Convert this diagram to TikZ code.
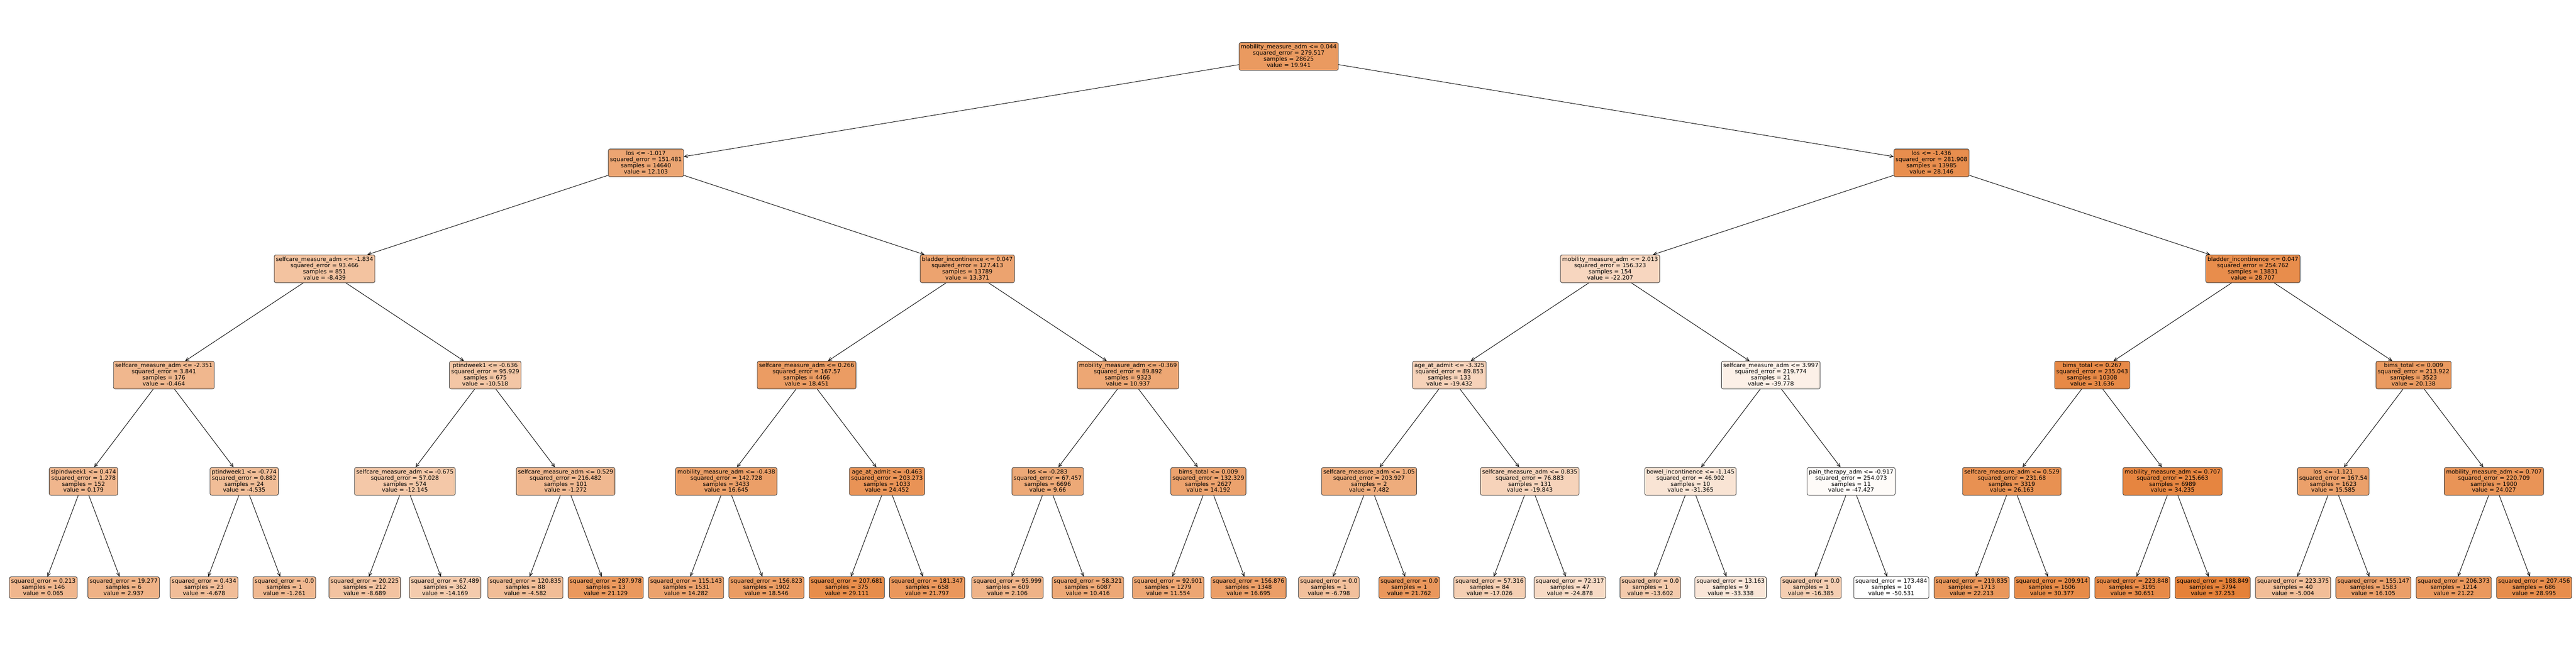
\documentclass[tikz,border=0pt]{standalone}
\usepackage{fontspec}
\setmainfont{DejaVu Sans}
\usetikzlibrary{arrows.meta}
\definecolor{orb}{RGB}{229,129,57}
\newcommand\inn[4]{\rule{0pt}{0.78em}#1\\squared\_error = #2\\samples = #3\\value = #4\rule[-0.24em]{0pt}{0.24em}}
\newcommand\lf[3]{\rule{0pt}{0.78em}squared\_error = #1\\samples = #2\\value = #3\rule[-0.24em]{0pt}{0.24em}}
\newcommand\X[1]{1.255+2.3265*(#1)}
\tikzset{
  nd/.style={rectangle, rounded corners=0.05cm, draw=black!80, line width=0.013cm,
    inner xsep=0.05cm, inner ysep=0.052cm, align=center,
    font=\fontsize{4.7pt}{5.05pt}\selectfont},
  edge/.style={draw=black, line width=0.014cm, -{Straight Barb[length=0.1cm,width=0.09cm]}}
}
\begin{document}
\begin{tikzpicture}
\useasboundingbox (0,0) rectangle (74.59,-18.68);
% level 0
\node[nd, fill=orb!80.3] (a0) at ({\X{15.5}},-1.635) {\inn{mobility\_measure\_adm <= 0.044}{279.517}{28625}{19.941}};
% level 1
\node[nd, fill=orb!71.3] (b0) at ({\X{7.5}},-4.72) {\inn{los <= -1.017}{151.481}{14640}{12.103}};
\node[nd, fill=orb!89.6] (b1) at ({\X{23.5}},-4.72) {\inn{los <= -1.436}{281.908}{13985}{28.146}};
% level 2
\node[nd, fill=orb!47.9] (c0) at ({\X{3.5}},-7.79) {\inn{selfcare\_measure\_adm <= -1.834}{93.466}{851}{-8.439}};
\node[nd, fill=orb!72.8] (c1) at ({\X{11.5}},-7.79) {\inn{bladder\_incontinence <= 0.047}{127.413}{13789}{13.371}};
\node[nd, fill=orb!32.3] (c2) at ({\X{19.5}},-7.79) {\inn{mobility\_measure\_adm <= 2.013}{156.323}{154}{-22.207}};
\node[nd, fill=orb!90.3] (c3) at ({\X{27.5}},-7.79) {\inn{bladder\_incontinence <= 0.047}{254.762}{13831}{28.707}};
% level 3
\node[nd, fill=orb!57.0] (d0) at ({\X{1.5}},-10.87) {\inn{selfcare\_measure\_adm <= -2.351}{3.841}{176}{-0.464}};
\node[nd, fill=orb!45.6] (d1) at ({\X{5.5}},-10.87) {\inn{ptindweek1 <= -0.636}{95.929}{675}{-10.518}};
\node[nd, fill=orb!78.6] (d2) at ({\X{9.5}},-10.87) {\inn{selfcare\_measure\_adm <= 0.266}{167.57}{4466}{18.451}};
\node[nd, fill=orb!70.0] (d3) at ({\X{13.5}},-10.87) {\inn{mobility\_measure\_adm <= -0.369}{89.892}{9323}{10.937}};
\node[nd, fill=orb!35.4] (d4) at ({\X{17.5}},-10.87) {\inn{age\_at\_admit <= -3.325}{89.853}{133}{-19.432}};
\node[nd, fill=orb!12.2] (d5) at ({\X{21.5}},-10.87) {\inn{selfcare\_measure\_adm <= 3.997}{219.774}{21}{-39.778}};
\node[nd, fill=orb!93.6] (d6) at ({\X{25.5}},-10.87) {\inn{bims\_total <= 0.267}{235.043}{10308}{31.636}};
\node[nd, fill=orb!80.5] (d7) at ({\X{29.5}},-10.87) {\inn{bims\_total <= 0.009}{213.922}{3523}{20.138}};
% level 4
\node[nd, fill=orb!57.8] (e0) at ({\X{0.5}},-13.95) {\inn{slpindweek1 <= 0.474}{1.278}{152}{0.179}};
\node[nd, fill=orb!52.4] (e1) at ({\X{2.5}},-13.95) {\inn{ptindweek1 <= -0.774}{0.882}{24}{-4.535}};
\node[nd, fill=orb!43.7] (e2) at ({\X{4.5}},-13.95) {\inn{selfcare\_measure\_adm <= -0.675}{57.028}{574}{-12.145}};
\node[nd, fill=orb!56.1] (e3) at ({\X{6.5}},-13.95) {\inn{selfcare\_measure\_adm <= 0.529}{216.482}{101}{-1.272}};
\node[nd, fill=orb!76.5] (e4) at ({\X{8.5}},-13.95) {\inn{mobility\_measure\_adm <= -0.438}{142.728}{3433}{16.645}};
\node[nd, fill=orb!85.4] (e5) at ({\X{10.5}},-13.95) {\inn{age\_at\_admit <= -0.463}{203.273}{1033}{24.452}};
\node[nd, fill=orb!68.6] (e6) at ({\X{12.5}},-13.95) {\inn{los <= -0.283}{67.457}{6696}{9.66}};
\node[nd, fill=orb!73.7] (e7) at ({\X{14.5}},-13.95) {\inn{bims\_total <= 0.009}{132.329}{2627}{14.192}};
\node[nd, fill=orb!66.1] (e8) at ({\X{16.5}},-13.95) {\inn{selfcare\_measure\_adm <= 1.05}{203.927}{2}{7.482}};
\node[nd, fill=orb!35.0] (e9) at ({\X{18.5}},-13.95) {\inn{selfcare\_measure\_adm <= 0.835}{76.883}{131}{-19.843}};
\node[nd, fill=orb!21.8] (e10) at ({\X{20.5}},-13.95) {\inn{bowel\_incontinence <= -1.145}{46.902}{10}{-31.365}};
\node[nd, fill=orb!3.5] (e11) at ({\X{22.5}},-13.95) {\inn{pain\_therapy\_adm <= -0.917}{254.073}{11}{-47.427}};
\node[nd, fill=orb!87.4] (e12) at ({\X{24.5}},-13.95) {\inn{selfcare\_measure\_adm <= 0.529}{231.68}{3319}{26.163}};
\node[nd, fill=orb!96.6] (e13) at ({\X{26.5}},-13.95) {\inn{mobility\_measure\_adm <= 0.707}{215.663}{6989}{34.235}};
\node[nd, fill=orb!75.3] (e14) at ({\X{28.5}},-13.95) {\inn{los <= -1.121}{167.54}{1623}{15.585}};
\node[nd, fill=orb!84.9] (e15) at ({\X{30.5}},-13.95) {\inn{mobility\_measure\_adm <= 0.707}{220.709}{1900}{24.027}};
% leaves
\node[nd, fill=orb!57.6] (f0) at ({\X{0}},-17.03) {\lf{0.213}{146}{0.065}};
\node[nd, fill=orb!60.9] (f1) at ({\X{1}},-17.03) {\lf{19.277}{6}{2.937}};
\node[nd, fill=orb!52.2] (f2) at ({\X{2}},-17.03) {\lf{0.434}{23}{-4.678}};
\node[nd, fill=orb!56.1] (f3) at ({\X{3}},-17.03) {\lf{-0.0}{1}{-1.261}};
\node[nd, fill=orb!47.7] (f4) at ({\X{4}},-17.03) {\lf{20.225}{212}{-8.689}};
\node[nd, fill=orb!41.4] (f5) at ({\X{5}},-17.03) {\lf{67.489}{362}{-14.169}};
\node[nd, fill=orb!52.3] (f6) at ({\X{6}},-17.03) {\lf{120.835}{88}{-4.582}};
\node[nd, fill=orb!81.6] (f7) at ({\X{7}},-17.03) {\lf{287.978}{13}{21.129}};
\node[nd, fill=orb!73.8] (f8) at ({\X{8}},-17.03) {\lf{115.143}{1531}{14.282}};
\node[nd, fill=orb!78.7] (f9) at ({\X{9}},-17.03) {\lf{156.823}{1902}{18.546}};
\node[nd, fill=orb!90.7] (f10) at ({\X{10}},-17.03) {\lf{207.681}{375}{29.111}};
\node[nd, fill=orb!82.4] (f11) at ({\X{11}},-17.03) {\lf{181.347}{658}{21.797}};
\node[nd, fill=orb!60.0] (f12) at ({\X{12}},-17.03) {\lf{95.999}{609}{2.106}};
\node[nd, fill=orb!69.4] (f13) at ({\X{13}},-17.03) {\lf{58.321}{6087}{10.416}};
\node[nd, fill=orb!70.7] (f14) at ({\X{14}},-17.03) {\lf{92.901}{1279}{11.554}};
\node[nd, fill=orb!76.6] (f15) at ({\X{15}},-17.03) {\lf{156.876}{1348}{16.695}};
\node[nd, fill=orb!49.8] (f16) at ({\X{16}},-17.03) {\lf{0.0}{1}{-6.798}};
\node[nd, fill=orb!82.4] (f17) at ({\X{17}},-17.03) {\lf{0.0}{1}{21.762}};
\node[nd, fill=orb!38.2] (f18) at ({\X{18}},-17.03) {\lf{57.316}{84}{-17.026}};
\node[nd, fill=orb!29.2] (f19) at ({\X{19}},-17.03) {\lf{72.317}{47}{-24.878}};
\node[nd, fill=orb!42.1] (f20) at ({\X{20}},-17.03) {\lf{0.0}{1}{-13.602}};
\node[nd, fill=orb!19.6] (f21) at ({\X{21}},-17.03) {\lf{13.163}{9}{-33.338}};
\node[nd, fill=orb!38.9] (f22) at ({\X{22}},-17.03) {\lf{0.0}{1}{-16.385}};
\node[nd, fill=white] (f23) at ({\X{23}},-17.03) {\lf{173.484}{10}{-50.531}};
\node[nd, fill=orb!82.9] (f24) at ({\X{24}},-17.03) {\lf{219.835}{1713}{22.213}};
\node[nd, fill=orb!92.2] (f25) at ({\X{25}},-17.03) {\lf{209.914}{1606}{30.377}};
\node[nd, fill=orb!92.5] (f26) at ({\X{26}},-17.03) {\lf{223.848}{3195}{30.651}};
\node[nd, fill=orb!100] (f27) at ({\X{27}},-17.03) {\lf{188.849}{3794}{37.253}};
\node[nd, fill=orb!51.9] (f28) at ({\X{28}},-17.03) {\lf{223.375}{40}{-5.004}};
\node[nd, fill=orb!75.9] (f29) at ({\X{29}},-17.03) {\lf{155.147}{1583}{16.105}};
\node[nd, fill=orb!81.7] (f30) at ({\X{30}},-17.03) {\lf{206.373}{1214}{21.22}};
\node[nd, fill=orb!90.6] (f31) at ({\X{31}},-17.03) {\lf{207.456}{686}{28.995}};
% connectors
\draw[edge] (a0) -- (b0);
\draw[edge] (a0) -- (b1);
\foreach \i in {0,1}{\pgfmathtruncatemacro\j{2*\i}\pgfmathtruncatemacro\k{2*\i+1}
  \draw[edge] (b\i) -- (c\j); \draw[edge] (b\i) -- (c\k);}
\foreach \i in {0,...,3}{\pgfmathtruncatemacro\j{2*\i}\pgfmathtruncatemacro\k{2*\i+1}
  \draw[edge] (c\i) -- (d\j); \draw[edge] (c\i) -- (d\k);}
\foreach \i in {0,...,7}{\pgfmathtruncatemacro\j{2*\i}\pgfmathtruncatemacro\k{2*\i+1}
  \draw[edge] (d\i) -- (e\j); \draw[edge] (d\i) -- (e\k);}
\foreach \i in {0,...,15}{\pgfmathtruncatemacro\j{2*\i}\pgfmathtruncatemacro\k{2*\i+1}
  \draw[edge] (e\i) -- (f\j); \draw[edge] (e\i) -- (f\k);}
\end{tikzpicture}
\end{document}
